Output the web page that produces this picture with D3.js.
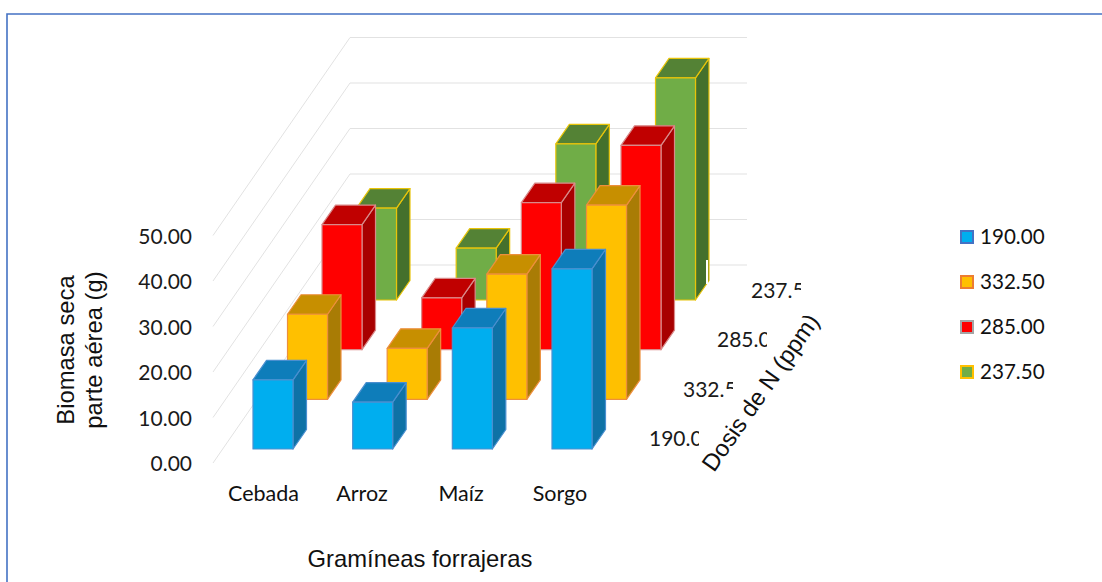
<!DOCTYPE html>
<html>
<head>
<meta charset="utf-8">
<style>
  html, body { margin: 0; padding: 0; background: #fff; }
  svg { display: block; }
</style>
<script src="https://cdn.jsdelivr.net/npm/d3@7/dist/d3.min.js"></script>
</head>
<body>
<svg id="chart" width="1102" height="582"></svg>
<script>
// Shoot dry biomass by forage grass and nitrogen dose
const grasses = ["Cebada", "Arroz", "Maíz", "Sorgo"];
const doses = ["190.00", "332.50", "285.00", "237.50"];
const depthLabels = ["190.00", "332.50", "285.00", "237.50"];
const biomass190 = [15.2, 10.3, 26.6, 39.6];
const biomass332 = [18.7, 11.2, 27.5, 42.7];
const biomass285 = [27.5, 11.4, 32.3, 44.9];
const biomass237 = [20.2, 11.4, 34.3, 48.8];
const seriesValues = [biomass190, biomass332, biomass285, biomass237];
const valueTicks = [0, 10, 20, 30, 40, 50];

const palette = [
  { front: "#00aeef", top: "#0e7dba", side: "#0e72a6", edge: "#4a8fd0" },
  { front: "#ffc000", top: "#c78f00", side: "#a97c05", edge: "#ed8f3c" },
  { front: "#ff0000", top: "#c00000", side: "#a80000", edge: "#d98a8a" },
  { front: "#70ad47", top: "#548235", side: "#44702c", edge: "#e8c40a" }
];
const legendEdges = ["#4472c4", "#ed7d31", "#a5a5a5", "#ffc000"];

const svg = d3.select("#chart");

// Oblique projection: column index runs right, row index runs back and up
const colX = d3.scaleLinear().domain([0, 3]).range([253, 552]);
const rowDX = d3.scaleLinear().domain([0, 3]).range([0, 103.5]);
const rowBase = d3.scaleLinear().domain([0, 3]).range([449, 300]);
const heightPx = d3.scaleLinear().domain([0, 50]).range([0, 227.5]);

const barW = 40, sideDX = 13.5, sideDY = -19.5;

// Chart frame: top and left rules only, the others run off the page
svg.append("path")
  .attr("d", d3.line()([[7, 582], [7, 14], [1102, 14]]))
  .attr("fill", "none").attr("stroke", "#4472c4").attr("stroke-width", 1.6);

// Side wall and back wall gridlines
const gridY = d3.scaleLinear().domain([0, 50]).range([265, 37.5]);
const grid = svg.append("g").attr("fill", "none");
valueTicks.forEach(v => {
  const back = gridY(v);
  grid.append("path")
    .attr("d", d3.line()([[213, back + 198], [350, back]]))
    .attr("stroke", "#e2e2e2").attr("stroke-width", 1);
  grid.append("path")
    .attr("d", d3.line()([[350, back], [747, back]]))
    .attr("stroke", "#e2e2e2").attr("stroke-width", 1.2);
});

// Bars, back row first so nearer rows overlap farther ones
const poly = pts => d3.line().curve(d3.curveLinearClosed)(pts);
const barsLayer = svg.append("g").attr("stroke-linejoin", "round");
d3.range(doses.length - 1, -1, -1).forEach(row => {
  const colors = palette[row];
  const rowGroup = barsLayer.append("g").attr("stroke", colors.edge).attr("stroke-width", 1.2);
  seriesValues[row].forEach((value, col) => {
    const x0 = colX(col) + rowDX(row);
    const x1 = x0 + barW;
    const yb = rowBase(row);
    const yt = yb - heightPx(value);
    rowGroup.append("path").attr("fill", colors.side)
      .attr("d", poly([[x1, yb], [x1 + sideDX, yb + sideDY], [x1 + sideDX, yt + sideDY], [x1, yt]]));
    rowGroup.append("path").attr("fill", colors.top)
      .attr("d", poly([[x0, yt], [x1, yt], [x1 + sideDX, yt + sideDY], [x0 + sideDX, yt + sideDY]]));
    rowGroup.append("path").attr("fill", colors.front)
      .attr("d", poly([[x0, yb], [x1, yb], [x1, yt], [x0, yt]]));
  });
});

// White backing that trims the outer edge of the tallest bar near the floor
svg.append("rect").attr("x", 706).attr("y", 260).attr("width", 2).attr("height", 24).attr("fill", "#fff");

const labelFont = "Lato, Carlito, sans-serif";
const titleFont = "'Liberation Sans', Arial, sans-serif";
const textColor = "#1a1a1a";

// Value axis labels
const yLabels = svg.append("g").attr("font-family", labelFont).attr("font-size", 21)
  .attr("fill", textColor).attr("text-anchor", "end");
valueTicks.forEach(v => {
  yLabels.append("text").attr("x", 192).attr("y", gridY(v) + 198 + 8)
    .text(d3.format(".2f")(v));
});

// Category labels
const xLabels = svg.append("g").attr("font-family", labelFont).attr("font-size", 21.5)
  .attr("fill", "#111").attr("text-anchor", "middle");
const xLabelPos = [263.5, 362, 461, 560];
grasses.forEach((g, i) => {
  xLabels.append("text").attr("x", xLabelPos[i]).attr("y", 501).text(g);
});

// Depth axis labels, with the trailing digits hidden behind white backing
const depthLabelX = [649, 683, 717, 751];
const depthLabelY = [446, 397, 347, 298];
const depth = svg.append("g");
depthLabels.forEach((d, i) => {
  depth.append("text")
    .attr("x", depthLabelX[i]).attr("y", depthLabelY[i])
    .attr("font-family", labelFont).attr("font-size", 21).attr("fill", textColor)
    .text(d);
  depth.append("rect")
    .attr("x", depthLabelX[i] + 50).attr("y", depthLabelY[i] - 18)
    .attr("width", 24).attr("height", 24).attr("fill", "#fff");
  if (i % 2 === 1) {
    depth.append("rect")
      .attr("x", depthLabelX[i] + 42).attr("y", depthLabelY[i] - 8)
      .attr("width", 10).attr("height", 12).attr("fill", "#fff");
  }
});

// Axis titles
svg.append("text").attr("x", 420).attr("y", 567)
  .attr("font-family", titleFont).attr("font-size", 23.8).attr("fill", "#111")
  .attr("text-anchor", "middle").text("Gramíneas forrajeras");

const yTitle = svg.append("text")
  .attr("transform", "translate(74,350) rotate(-90)")
  .attr("font-family", titleFont).attr("font-size", 23.8).attr("fill", "#111")
  .attr("text-anchor", "middle");
yTitle.append("tspan").attr("x", 0).attr("y", 0).text("Biomasa seca");
yTitle.append("tspan").attr("x", 0).attr("y", 28).text("parte aérea (g)");

svg.append("text")
  .attr("transform", "translate(714,473) rotate(-55)")
  .attr("font-family", titleFont).attr("font-size", 23.8).attr("fill", "#111")
  .text("Dosis de N (ppm)");

// Legend
const legendY = d3.scalePoint().domain(doses).range([237, 372]);
const legend = svg.append("g");
doses.forEach((d, i) => {
  const y = legendY(d);
  legend.append("rect")
    .attr("x", 961).attr("y", y - 6).attr("width", 12).attr("height", 12)
    .attr("fill", palette[i].front).attr("stroke", legendEdges[i]).attr("stroke-width", 2);
  legend.append("text")
    .attr("x", 980).attr("y", y + 7)
    .attr("font-family", labelFont).attr("font-size", 20.6).attr("fill", "#111")
    .text(d);
});
</script>
</body>
</html>
